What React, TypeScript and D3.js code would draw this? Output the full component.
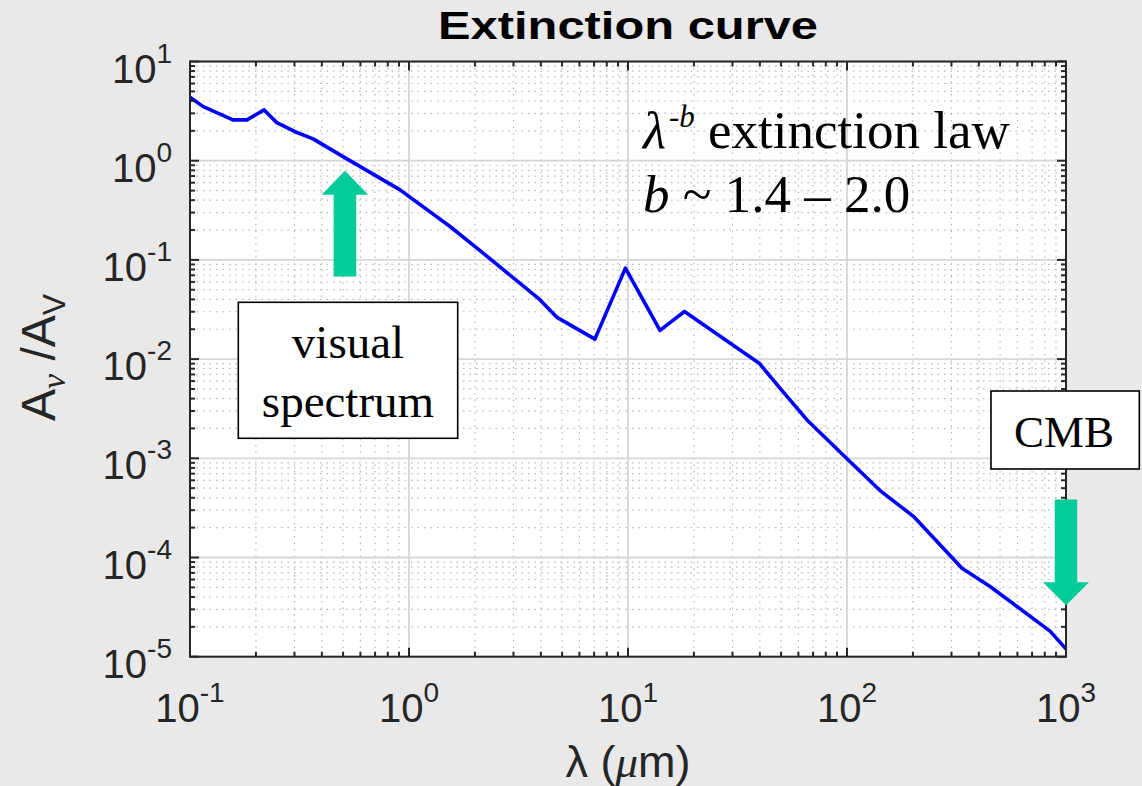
import React from 'react';
import * as d3 from 'd3';

// Interstellar extinction A_nu / A_V versus wavelength (micrometres)
const wavelength = [
  0.1, 0.115, 0.157, 0.182, 0.218, 0.249, 0.302, 0.365, 0.5, 0.91, 1.54, 2.18,
  3.96, 4.72, 7.06, 9.73, 14.0, 18.1, 39.7, 49.4, 65.5, 100, 142, 201, 335, 450,
  845, 1000,
];
const extinction = [
  4.36, 3.51, 2.58, 2.58, 3.25, 2.42, 1.96, 1.66, 1.1, 0.508, 0.217, 0.117,
  0.0397, 0.0265, 0.0159, 0.0826, 0.0195, 0.0302, 0.0091, 0.0051, 0.00245,
  0.00099, 0.00047, 0.00026, 0.000078, 0.000051, 0.0000181, 0.000012,
];

// Decade exponents used for major ticks and labels
const xDecades = [-1, 0, 1, 2, 3];
const yDecades = [1, 0, -1, -2, -3, -4, -5];

// Annotation anchors in data units
const visualArrow = { lambda: 0.51, tip: 0.79, tail: 0.068 };
const cmbArrow = { lambda: 1000, tip: 3.3e-5, tail: 3.85e-4 };

const W = 1142;
const H = 786;
const PLOT = { left: 190, right: 1066, top: 61.5, bottom: 656.7 };

const SANS = '"Liberation Sans", Arial, Helvetica, sans-serif';
const SERIF = '"Liberation Serif", "Times New Roman", serif';
const AXIS = '#262626';
const ARROW = '#00CC99';

function arrowPath(cx: number, tipY: number, tailY: number, headLen: number, headHalf: number, shaftHalf: number) {
  const dir = tailY > tipY ? 1 : -1; // +1: arrow points up
  const baseY = tipY + dir * headLen;
  return [
    `M${cx},${tipY}`,
    `L${cx + headHalf},${baseY}`,
    `L${cx + shaftHalf},${baseY}`,
    `L${cx + shaftHalf},${tailY}`,
    `L${cx - shaftHalf},${tailY}`,
    `L${cx - shaftHalf},${baseY}`,
    `L${cx - headHalf},${baseY}`,
    'Z',
  ].join(' ');
}

export default function App() {
  const x = d3.scaleLog().domain([0.1, 1000]).range([PLOT.left, PLOT.right]);
  const y = d3.scaleLog().domain([1e-5, 10]).range([PLOT.bottom, PLOT.top]);

  const minorX: number[] = [];
  for (let k = -1; k < 3; k++) for (let m = 2; m <= 9; m++) minorX.push(m * Math.pow(10, k));
  const minorY: number[] = [];
  for (let k = -5; k < 1; k++) for (let m = 2; m <= 9; m++) minorY.push(m * Math.pow(10, k));

  const pts = wavelength.map((w, i) => [w, extinction[i]] as [number, number]);
  const line = d3
    .line<[number, number]>()
    .x((d) => x(d[0]))
    .y((d) => y(d[1]));

  const majT = 9;
  const minT = 5;

  const vCx = x(visualArrow.lambda);
  const cCx = x(cmbArrow.lambda);

  return (
    <svg
      width={W}
      height={H}
      style={{ position: 'absolute', left: 0, top: 0, display: 'block' }}
    >
      <rect x={0} y={0} width={W} height={H} fill="#e9e9e9" />
      <rect
        x={PLOT.left}
        y={PLOT.top}
        width={PLOT.right - PLOT.left}
        height={PLOT.bottom - PLOT.top}
        fill="#ffffff"
      />

      {/* minor grid */}
      <g stroke="#b8b8b8" strokeWidth={1.2} strokeDasharray="1.5 5">
        {minorX.map((v) => (
          <line key={'mx' + v} x1={x(v)} x2={x(v)} y1={PLOT.top} y2={PLOT.bottom} />
        ))}
        {minorY.map((v) => (
          <line key={'my' + v} x1={PLOT.left} x2={PLOT.right} y1={y(v)} y2={y(v)} />
        ))}
      </g>

      {/* major grid */}
      <g stroke="#d6d6d6" strokeWidth={1.8}>
        {xDecades.map((e) => (
          <line key={'gx' + e} x1={x(Math.pow(10, e))} x2={x(Math.pow(10, e))} y1={PLOT.top} y2={PLOT.bottom} />
        ))}
        {yDecades.map((e) => (
          <line key={'gy' + e} x1={PLOT.left} x2={PLOT.right} y1={y(Math.pow(10, e))} y2={y(Math.pow(10, e))} />
        ))}
      </g>

      {/* extinction curve */}
      <path d={line(pts) || ''} fill="none" stroke="#0000ff" strokeWidth={3.6} strokeLinejoin="round" />

      {/* axes box with inward ticks on all four sides */}
      <g stroke={AXIS} strokeWidth={2}>
        <rect
          x={PLOT.left}
          y={PLOT.top}
          width={PLOT.right - PLOT.left}
          height={PLOT.bottom - PLOT.top}
          fill="none"
        />
        {xDecades.map((e) => {
          const px = x(Math.pow(10, e));
          return (
            <g key={'tx' + e}>
              <line x1={px} x2={px} y1={PLOT.bottom} y2={PLOT.bottom - majT} />
              <line x1={px} x2={px} y1={PLOT.top} y2={PLOT.top + majT} />
            </g>
          );
        })}
        {minorX.map((v) => {
          const px = x(v);
          return (
            <g key={'tmx' + v}>
              <line x1={px} x2={px} y1={PLOT.bottom} y2={PLOT.bottom - minT} />
              <line x1={px} x2={px} y1={PLOT.top} y2={PLOT.top + minT} />
            </g>
          );
        })}
        {yDecades.map((e) => {
          const py = y(Math.pow(10, e));
          return (
            <g key={'ty' + e}>
              <line x1={PLOT.left} x2={PLOT.left + majT} y1={py} y2={py} />
              <line x1={PLOT.right} x2={PLOT.right - majT} y1={py} y2={py} />
            </g>
          );
        })}
        {minorY.map((v) => {
          const py = y(v);
          return (
            <g key={'tmy' + v}>
              <line x1={PLOT.left} x2={PLOT.left + minT} y1={py} y2={py} />
              <line x1={PLOT.right} x2={PLOT.right - minT} y1={py} y2={py} />
            </g>
          );
        })}
      </g>

      {/* tick labels */}
      <g fill={AXIS} fontFamily={SANS} fontSize={40}>
        {xDecades.map((e) => (
          <text key={'lx' + e} x={x(Math.pow(10, e))} y={721.7} textAnchor="middle">
            10
            <tspan dy={-20} fontSize={28}>
              {String(e)}
            </tspan>
          </text>
        ))}
        {yDecades.map((e) => (
          <text key={'ly' + e} x={172} y={y(Math.pow(10, e)) + 21} textAnchor="end">
            10
            <tspan dy={-20} fontSize={28}>
              {String(e)}
            </tspan>
          </text>
        ))}
      </g>

      {/* title */}
      <text
        x={(PLOT.left + PLOT.right) / 2}
        y={39.3}
        textAnchor="middle"
        fontFamily={SANS}
        fontWeight="bold"
        fontSize={38}
        textLength={380}
        lengthAdjust="spacingAndGlyphs"
        fill="#000"
      >
        Extinction curve
      </text>

      {/* axis labels */}
      <text
        x={(PLOT.left + PLOT.right) / 2}
        y={777}
        textAnchor="middle"
        fontFamily={SANS}
        fontSize={45}
        fill={AXIS}
      >
        λ (
        <tspan fontFamily={SERIF} fontStyle="italic">μ</tspan>
        m)
      </text>
      <text
        transform="translate(55,357.5) rotate(-90)"
        textAnchor="middle"
        fontFamily={SANS}
        fontSize={48}
        fill={AXIS}
      >
        A
        <tspan dy={10} fontFamily={SERIF} fontStyle="italic" fontSize={34}>
          ν
        </tspan>
        <tspan dy={-10}> /A</tspan>
        <tspan dy={10} fontSize={32}>
          V
        </tspan>
      </text>

      {/* extinction law annotation */}
      <g fontFamily={SERIF} fill="#000">
        <text x={643} y={148} fontSize={53}>
          <tspan fontStyle="italic">λ</tspan>
          <tspan dx={3} dy={-21} fontSize={31}>
            -
          </tspan>
          <tspan fontStyle="italic" fontSize={31}>
            b
          </tspan>
          <tspan dy={21}> extinction law</tspan>
        </text>
        <text x={643} y={211.7} fontSize={53}>
          <tspan fontStyle="italic">b</tspan> ~ 1.4 – 2.0
        </text>
      </g>

      {/* visual spectrum box */}
      <rect x={238.3} y={302.3} width={219.4} height={136} fill="#fff" stroke="#000" strokeWidth={1.6} />
      <g fontFamily={SERIF} fontSize={47} fill="#000" textAnchor="middle">
        <text x={348} y={358.3}>visual</text>
        <text x={348} y={417.3}>spectrum</text>
      </g>

      {/* CMB box */}
      <rect x={991} y={391} width={148.3} height={78} fill="#fff" stroke="#000" strokeWidth={1.6} />
      <text x={1064} y={446.7} fontFamily={SERIF} fontSize={45} textAnchor="middle" fill="#000">
        CMB
      </text>

      {/* arrows */}
      <path d={arrowPath(vCx, y(visualArrow.tip), y(visualArrow.tail), 24, 23.3, 11.3)} fill={ARROW} />
      <path d={arrowPath(cCx, y(cmbArrow.tip), y(cmbArrow.tail), 23, 23, 11.2)} fill={ARROW} />
    </svg>
  );
}
